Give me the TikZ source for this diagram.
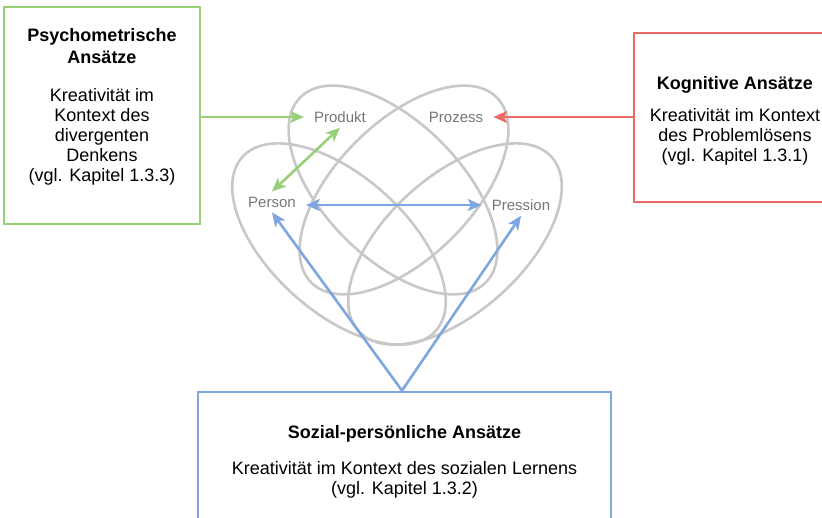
\documentclass[tikz,border=0pt]{standalone}
\usepackage{fontspec}
\setmainfont{Liberation Sans}
\usetikzlibrary{arrows.meta}

\definecolor{psygreen}{HTML}{97D077}
\definecolor{kogred}{HTML}{EA6B66}
\definecolor{sozblue}{HTML}{7EA6E0}
\definecolor{ringgray}{HTML}{C8C8C8}
\definecolor{labelgray}{HTML}{777777}

\tikzset{
  approachbox/.style={draw, line width=2.8pt, rectangle, inner sep=0pt},
  boxtitle/.style={font=\fontsize{18}{22}\selectfont\bfseries, align=center, inner sep=0pt},
  boxbody/.style={font=\fontsize{18}{20}\selectfont, align=center, inner sep=0pt},
  ring/.style={draw=ringgray, line width=2.6pt},
  plabel/.style={font=\fontsize{15}{18}\selectfont, text=labelgray, inner xsep=10pt, inner ysep=5pt},
  tip/.tip={Stealth[length=14pt,width=12pt,inset=3.5pt]},
  link/.style={line width=2.6pt, -tip},
  duallink/.style={line width=2.6pt, tip-tip},
}

\begin{document}
\begin{tikzpicture}[x=1pt,y=1pt]
\useasboundingbox (0,0) rectangle (822,518);
\clip (0,0) rectangle (822,518);
\fill[white] (0,0) rectangle (822,518);

% the four overlapping ellipses
\draw[ring] (393,328) ellipse[x radius=131, y radius=68, rotate=-45];
\draw[ring] (404,328) ellipse[x radius=131, y radius=68, rotate=45];
\draw[ring] (339,274) ellipse[x radius=130, y radius=68, rotate=-42];
\draw[ring] (455,274) ellipse[x radius=130, y radius=68, rotate=42];

% labels of the four P
\node[plabel] (produkt) at (340,401) {Produkt};
\node[plabel] (prozess) at (456,401) {Prozess};
\node[plabel] (person) at (272,316) {Person};
\node[plabel] (pression) at (521,313) {Pression};

% psychometric approaches
\node[approachbox, draw=psygreen, minimum width=196pt, minimum height=217pt] (psy) at (102,402.5) {};
\node[boxtitle] (psytitle) at (102,472) {Psychometrische\\Ansätze};
\node[boxbody] (psybody) at (102,381) {Kreativität im\\Kontext des\\divergenten\\Denkens\\(vgl. Kapitel 1.3.3)};

% cognitive approaches
\node[approachbox, draw=kogred, minimum width=202pt, minimum height=169pt] (kog) at (735,400.5) {};
\node[boxtitle] (kogtitle) at (735,433) {Kognitive Ansätze};
\node[boxbody] (kogbody) at (735,381) {Kreativität im Kontext\\des Problemlösens\\(vgl. Kapitel 1.3.1)};

% social-personal approaches
\node[approachbox, draw=sozblue, minimum width=413pt, minimum height=168pt] (soz) at (404.5,42) {};
\node[boxtitle] (soztitle) at (404.5,84) {Sozial-persönliche Ansätze};
\node[boxbody] (sozbody) at (404.5,38) {Kreativität im Kontext des sozialen Lernens\\(vgl. Kapitel 1.3.2)};

\coordinate (sozapex) at ([xshift=-2.5pt]soz.north);

% connectors
\draw[link, draw=psygreen, fill=psygreen] (psy.east |- produkt.west) -- (produkt.west);
\draw[link, draw=kogred, fill=kogred] (kog.west |- prozess.east) -- (prozess.east);
\draw[duallink, draw=psygreen, fill=psygreen] (produkt.south) -- (person.north);
\draw[duallink, draw=sozblue, fill=sozblue] (person.east |- pression.west) -- (pression.west);
\draw[link, draw=sozblue, fill=sozblue] (sozapex) -- (person.south);
\draw[link, draw=sozblue, fill=sozblue] (sozapex) -- (pression.south);
\end{tikzpicture}
\end{document}
